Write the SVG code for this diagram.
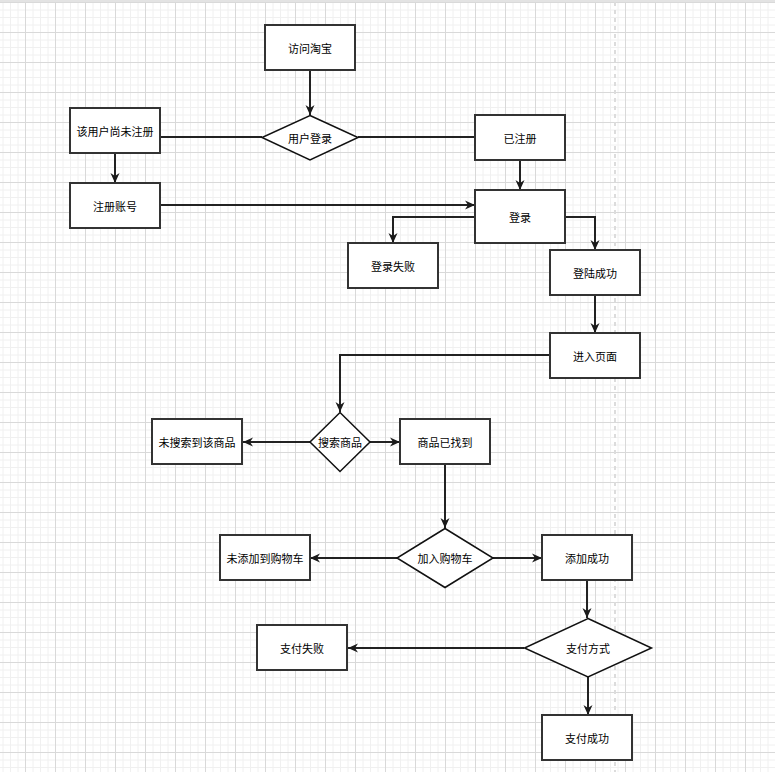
<svg xmlns="http://www.w3.org/2000/svg" width="775" height="772" viewBox="0 0 775 772">
<defs>
<pattern id="grid" x="25" y="32" width="30" height="30" patternUnits="userSpaceOnUse">
<path d="M8 0V30M15.5 0V30M23 0V30M0 8H30M0 15.5H30M0 23H30" stroke="#f0f0f0" stroke-width="1" fill="none"/>
<path d="M0.5 0V30M0 0.5H30" stroke="#d9d9d9" stroke-width="1" fill="none"/>
</pattern>
<marker id="arr" markerUnits="userSpaceOnUse" markerWidth="12" markerHeight="10" refX="10" refY="5" orient="auto" viewBox="0 0 12 10">
<path d="M0,0.5 L10,5 L0,9.5 L3,5 Z" fill="#1a1a1a"/>
</marker>
</defs>
<style>
.box{fill:#ffffff;stroke:#333333;stroke-width:2}
.dia{fill:#ffffff;stroke:#111111;stroke-width:1.5}
.lbl{font-family:"Noto Sans CJK SC","Liberation Sans",sans-serif;font-size:11px;fill:#000000;text-anchor:middle;dominant-baseline:central}
.edge{fill:none;stroke:#222222;stroke-width:2}
.arrow{marker-end:url(#arr)}
</style>
<rect x="0" y="0" width="775" height="772" fill="#ffffff"/>
<rect x="0" y="0" width="775" height="772" fill="url(#grid)"/>
<rect x="0" y="0" width="775" height="2" fill="#e3e3e3"/>
<line x1="615" y1="2" x2="615" y2="772" stroke="#dcdcdc" stroke-width="2" stroke-dasharray="4,4"/>

<g id="connectors">
<path class="edge arrow" d="M310 70V115"/>
<path class="edge" d="M262 137H160"/>
<path class="edge" d="M358 137H475"/>
<path class="edge arrow" d="M115 153V183"/>
<path class="edge arrow" d="M160 205H475"/>
<path class="edge arrow" d="M520 160V190"/>
<path class="edge arrow" d="M475 217H393V243"/>
<path class="edge arrow" d="M565 217H595V250"/>
<path class="edge arrow" d="M595 295V333"/>
<path class="edge arrow" d="M550 355H340V412"/>
<path class="edge arrow" d="M310 442H243"/>
<path class="edge arrow" d="M370 442H400"/>
<path class="edge arrow" d="M445 464V528"/>
<path class="edge arrow" d="M397 558H310"/>
<path class="edge arrow" d="M493 558H542"/>
<path class="edge arrow" d="M587 580V618"/>
<path class="edge arrow" d="M524 648H348"/>
<path class="edge arrow" d="M588 677V715"/>
</g>

<g id="n-visit"><rect class="box" x="265" y="25" width="90" height="45"/><text class="lbl" x="310" y="47.5">访问淘宝</text></g>
<g id="n-login-q"><polygon class="dia" points="310,115.5 358,137.5 310,160 262,137.5"/><text class="lbl" x="310" y="137.5">用户登录</text></g>
<g id="n-unreg"><rect class="box" x="70" y="108" width="90" height="45"/><text class="lbl" x="115" y="130.5">该用户尚未注册</text></g>
<g id="n-reg-acct"><rect class="box" x="70" y="183" width="90" height="45"/><text class="lbl" x="115" y="205.5">注册账号</text></g>
<g id="n-registered"><rect class="box" x="475" y="115" width="90" height="45"/><text class="lbl" x="520" y="137.5">已注册</text></g>
<g id="n-login"><rect class="box" x="475" y="190" width="90" height="53"/><text class="lbl" x="520" y="216.5">登录</text></g>
<g id="n-login-fail"><rect class="box" x="348" y="243" width="90" height="45"/><text class="lbl" x="393" y="265.5">登录失败</text></g>
<g id="n-login-ok"><rect class="box" x="550" y="250" width="90" height="45"/><text class="lbl" x="595" y="272.5">登陆成功</text></g>
<g id="n-enter"><rect class="box" x="550" y="333" width="90" height="45"/><text class="lbl" x="595" y="355.5">进入页面</text></g>
<g id="n-search"><polygon class="dia" points="340,412.5 370,442 340,471.5 310,442"/><text class="lbl" x="340" y="442">搜索商品</text></g>
<g id="n-notfound"><rect class="box" x="152" y="419" width="90" height="45"/><text class="lbl" x="197" y="441.5">未搜索到该商品</text></g>
<g id="n-found"><rect class="box" x="400" y="419" width="90" height="45"/><text class="lbl" x="445" y="441.5">商品已找到</text></g>
<g id="n-cart"><polygon class="dia" points="445,528.5 493,558 445,587.5 397,558"/><text class="lbl" x="445" y="558">加入购物车</text></g>
<g id="n-cart-fail"><rect class="box" x="220" y="535" width="90" height="45"/><text class="lbl" x="265" y="557.5">未添加到购物车</text></g>
<g id="n-cart-ok"><rect class="box" x="542" y="535" width="90" height="45"/><text class="lbl" x="587" y="557.5">添加成功</text></g>
<g id="n-pay"><polygon class="dia" points="588,618.5 651.5,648 588,677 524.5,648"/><text class="lbl" x="588" y="648">支付方式</text></g>
<g id="n-pay-fail"><rect class="box" x="257" y="625" width="90" height="45"/><text class="lbl" x="302" y="647.5">支付失败</text></g>
<g id="n-pay-ok"><rect class="box" x="542" y="715" width="90" height="45"/><text class="lbl" x="587" y="737.5">支付成功</text></g>
</svg>
